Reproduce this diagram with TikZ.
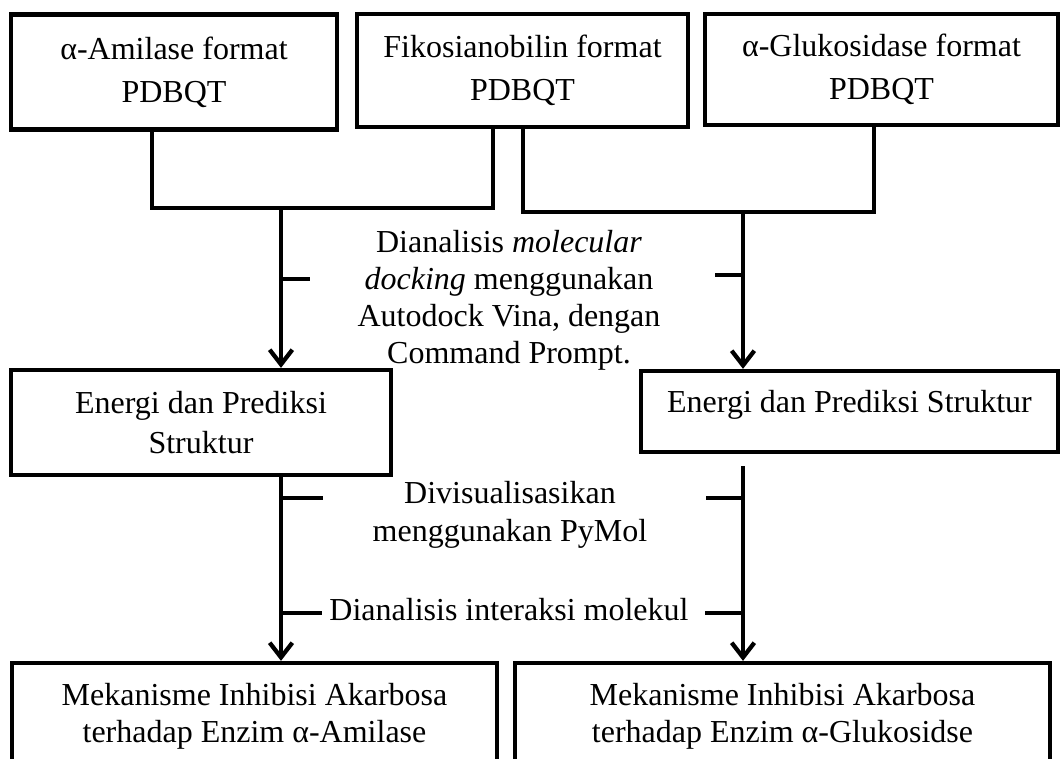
\documentclass[tikz,border=0pt]{standalone}
\usepackage{fontspec}
\setmainfont{Liberation Serif}
\usetikzlibrary{arrows.meta}
\begin{document}
\begin{tikzpicture}[x=0.75pt,y=-0.75pt,
  box/.style={draw, line width=3.2pt, rectangle, inner sep=0pt, align=center,
    font=\fontsize{24pt}{32.25pt}\selectfont},
  link/.style={line width=3.2pt},
  flowarrow/.style={link, -{Straight Barb[length=11pt,width=17pt]}},
  note/.style={align=center, inner sep=0pt,
    font=\fontsize{24pt}{27.75pt}\selectfont}]
\useasboundingbox (0,0) rectangle (1062,758);
\clip (0,0) rectangle (1062,758);

% input files
\node[box, minimum width=244.5pt, minimum height=86.25pt] (amilase) at (174,72)
  {α-Amilase format\\PDBQT};
\node[box, minimum width=248.25pt, minimum height=84.75pt] (fiko) at (522.5,70.5)
  {Fikosianobilin format\\PDBQT};
\node[box, minimum width=264.75pt, minimum height=83.25pt] (gluko) at (881.5,69.5)
  {α-Glukosidase format\\PDBQT};

% docking results
\node[box, minimum width=285pt, minimum height=78.75pt,
  font=\fontsize{24pt}{30pt}\selectfont] (energiL) at (201,422.5)
  {Energi dan Prediksi\\Struktur};
\node[box, minimum width=312.75pt, minimum height=60.75pt] (energiR) at (849.5,411.5)
  {\raisebox{5pt}[\height][\depth]{Energi dan Prediksi Struktur}};

% inhibition mechanisms
\node[box, minimum width=363.75pt, minimum height=80.25pt,
  font=\fontsize{24pt}{27.75pt}\selectfont] (mekL) at (254.5,716.5)
  {Mekanisme Inhibisi Akarbosa\\terhadap Enzim α-Amilase};
\node[box, minimum width=401.25pt, minimum height=80.25pt,
  font=\fontsize{24pt}{27.75pt}\selectfont] (mekR) at (782.5,716.5)
  {Mekanisme Inhibisi Akarbosa\\terhadap Enzim α-Glukosidse};

% step labels
\node[note] (dock) at (509,300.5)
  {Dianalisis \textit{molecular}\\\textit{docking} menggunakan\\Autodock Vina, dengan\\Command Prompt.};
\node[note, font=\fontsize{24pt}{28.5pt}\selectfont] (visual) at (510,514.5)
  {Divisualisasikan\\menggunakan PyMol};
\node[note] (interaksi) at (509,610) {Dianalisis interaksi molekul};

% joining the inputs
\coordinate (aL) at (152,208);
\coordinate (aR) at (493,208);
\coordinate (bL) at (523,212);
\coordinate (bR) at (874,212);
\draw[link] (aL |- amilase.south) -- (aL) -- (aR) -- (aR |- fiko.south);
\draw[link] (bL |- fiko.south) -- (bL) -- (bR) -- (bR |- gluko.south);

% docking arrows
\coordinate (dL) at (281,208);
\coordinate (dR) at (743,212);
\draw[flowarrow] (dL) -- (dL |- energiL.north);
\draw[flowarrow] (dR) -- (dR |- energiR.north);
\coordinate (t1) at (310,279);
\coordinate (t2) at (715,275);
\draw[link] (t1 -| dL) -- (t1);
\draw[link] (t2 -| dR) -- (t2);

% visualisation and interaction arrows
\coordinate (eR) at (743,466);
\draw[flowarrow] (dL |- energiL.south) -- (dL |- mekL.north);
\draw[flowarrow] (eR) -- (eR |- mekR.north);
\coordinate (t3) at (323,498);
\coordinate (t4) at (706,498);
\coordinate (t5) at (322,613);
\coordinate (t6) at (705,613);
\draw[link] (t3 -| dL) -- (t3);
\draw[link] (t4 -| dR) -- (t4);
\draw[link] (t5 -| dL) -- (t5);
\draw[link] (t6 -| dR) -- (t6);
\end{tikzpicture}
\end{document}
